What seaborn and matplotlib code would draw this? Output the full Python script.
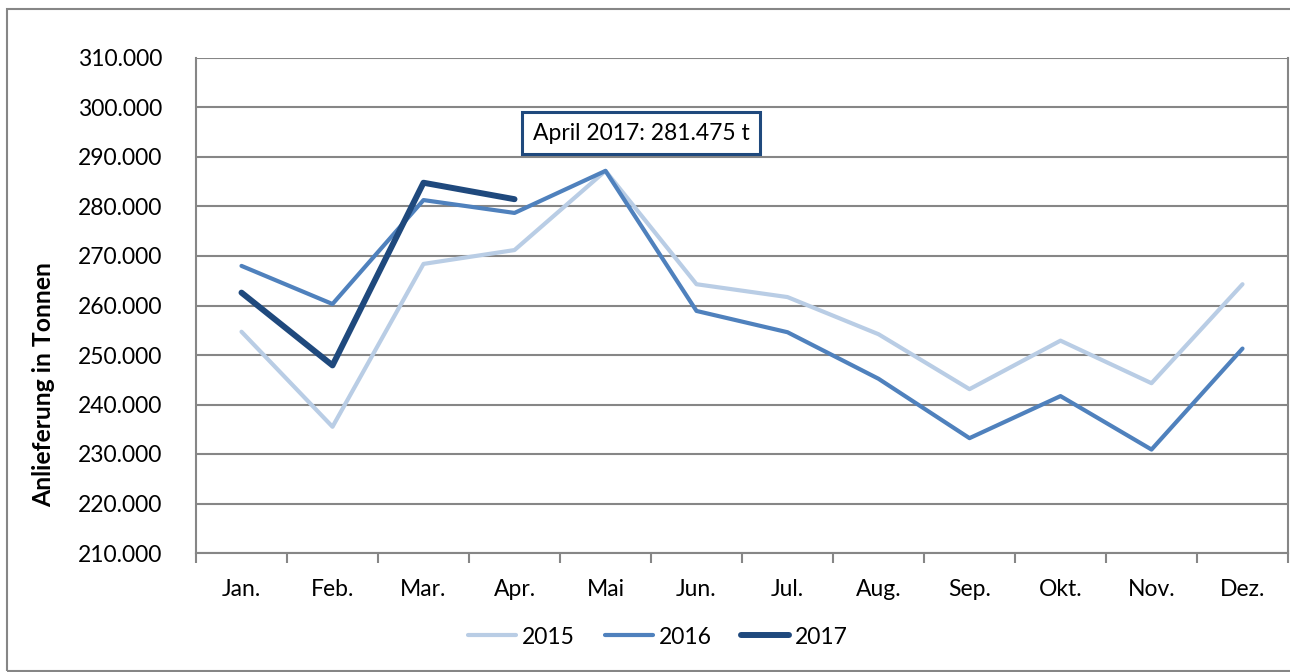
import seaborn as sns
import matplotlib.pyplot as plt
import pandas as pd
import numpy as np
from matplotlib.ticker import FixedLocator, FuncFormatter
from matplotlib.patches import Rectangle

months = ['Jan.', 'Feb.', 'Mar.', 'Apr.', 'Mai', 'Jun.', 'Jul.', 'Aug.', 'Sep.', 'Okt.', 'Nov.', 'Dez.']
t2015 = [254700, 235500, 268400, 271200, 287200, 264300, 261700, 254200, 243100, 252900, 244300, 264300]
t2016 = [268000, 260300, 281300, 278700, 287200, 258900, 254600, 245200, 233200, 241700, 230900, 251300]
t2017 = [262600, 247900, 284800, 281475]

rows = []
for year, vals in [('2015', t2015), ('2016', t2016), ('2017', t2017)]:
    for m, v in zip(months, vals):
        rows.append({'Monat': m, 'Tonnen': v, 'Jahr': year})
df = pd.DataFrame(rows)

sns.set_style('white')
plt.rcParams['font.family'] = ['Lato', 'DejaVu Sans']
plt.rcParams['text.color'] = 'black'
plt.rcParams['xtick.labelcolor'] = 'black'
plt.rcParams['ytick.labelcolor'] = 'black'
plt.rcParams['axes.labelcolor'] = 'black'

fig = plt.figure(figsize=(12.9, 6.72), dpi=100)
ax = fig.add_axes([196/1290, 119/672, 1092/1290, 495/672])

palette = {'2015': '#B9CDE5', '2016': '#4F81BD', '2017': '#1F497D'}
sns.lineplot(data=df, x='Monat', y='Tonnen', hue='Jahr', palette=palette,
             sort=False, ax=ax, legend=False)
widths = {'2015': 3.0, '2016': 3.0, '2017': 4.3}
for line, year in zip(ax.lines, ['2015', '2016', '2017']):
    line.set_linewidth(widths[year])
    line.set_solid_capstyle('round')
    line.set_zorder(3)

ax.set_xlim(-0.5, 11.5)
ax.set_ylim(210000, 310000)
ax.set_yticks(np.arange(210000, 310001, 10000))
ax.yaxis.set_major_formatter(FuncFormatter(lambda v, p: f'{v/1000:.0f}.000'))
ax.set_xticks(range(12))
ax.set_xticklabels(months)
ax.xaxis.set_minor_locator(FixedLocator(np.arange(-0.5, 12, 1)))
ax.tick_params(axis='x', which='major', length=0, pad=19, labelsize=16.5, labelcolor='black')
ax.tick_params(axis='x', which='minor', length=7, width=1.5, color='#868686', direction='out')
ax.tick_params(axis='y', length=7, width=1.5, color='#868686', direction='out', labelsize=16.5, pad=17,
               labelcolor='black')
ax.tick_params(bottom=True, which='minor')
ax.grid(axis='y', color='#868686', linewidth=1.5)
ax.set_axisbelow(True)
for side in ['left', 'bottom', 'right']:
    ax.spines[side].set_color('#868686')
    ax.spines[side].set_linewidth(1.5)
ax.spines['top'].set_visible(False)
ax.set_xlabel('')
ax.set_ylabel('Anlieferung in Tonnen', fontsize=17.8, fontweight='bold', color='black')
ax.yaxis.set_label_coords(-0.129, 0.34)

ax.text(4.39, 294800, 'April 2017: 281.475 t', fontsize=16.5, ha='center', va='center', color='black',
        bbox=dict(boxstyle='square,pad=0.45', fc='white', ec='#1F497D', lw=2.2), zorder=5)

handles = [plt.Line2D([], [], color=palette[y], lw=widths[y], solid_capstyle='round') for y in ['2015', '2016', '2017']]
fig.legend(handles, ['2015', '2016', '2017'], loc='center', bbox_to_anchor=(658/1290, 1 - 637/672),
           ncol=3, frameon=False, fontsize=16.5, handlelength=2.1, handletextpad=0.25, columnspacing=1.3)

fig.patches.append(Rectangle((7/1290, 0.002), 1.2, 1 - 9/672 - 0.002, transform=fig.transFigure,
                             fill=False, ec='#868686', lw=1.5))

fig.savefig('out.png', dpi=100)
